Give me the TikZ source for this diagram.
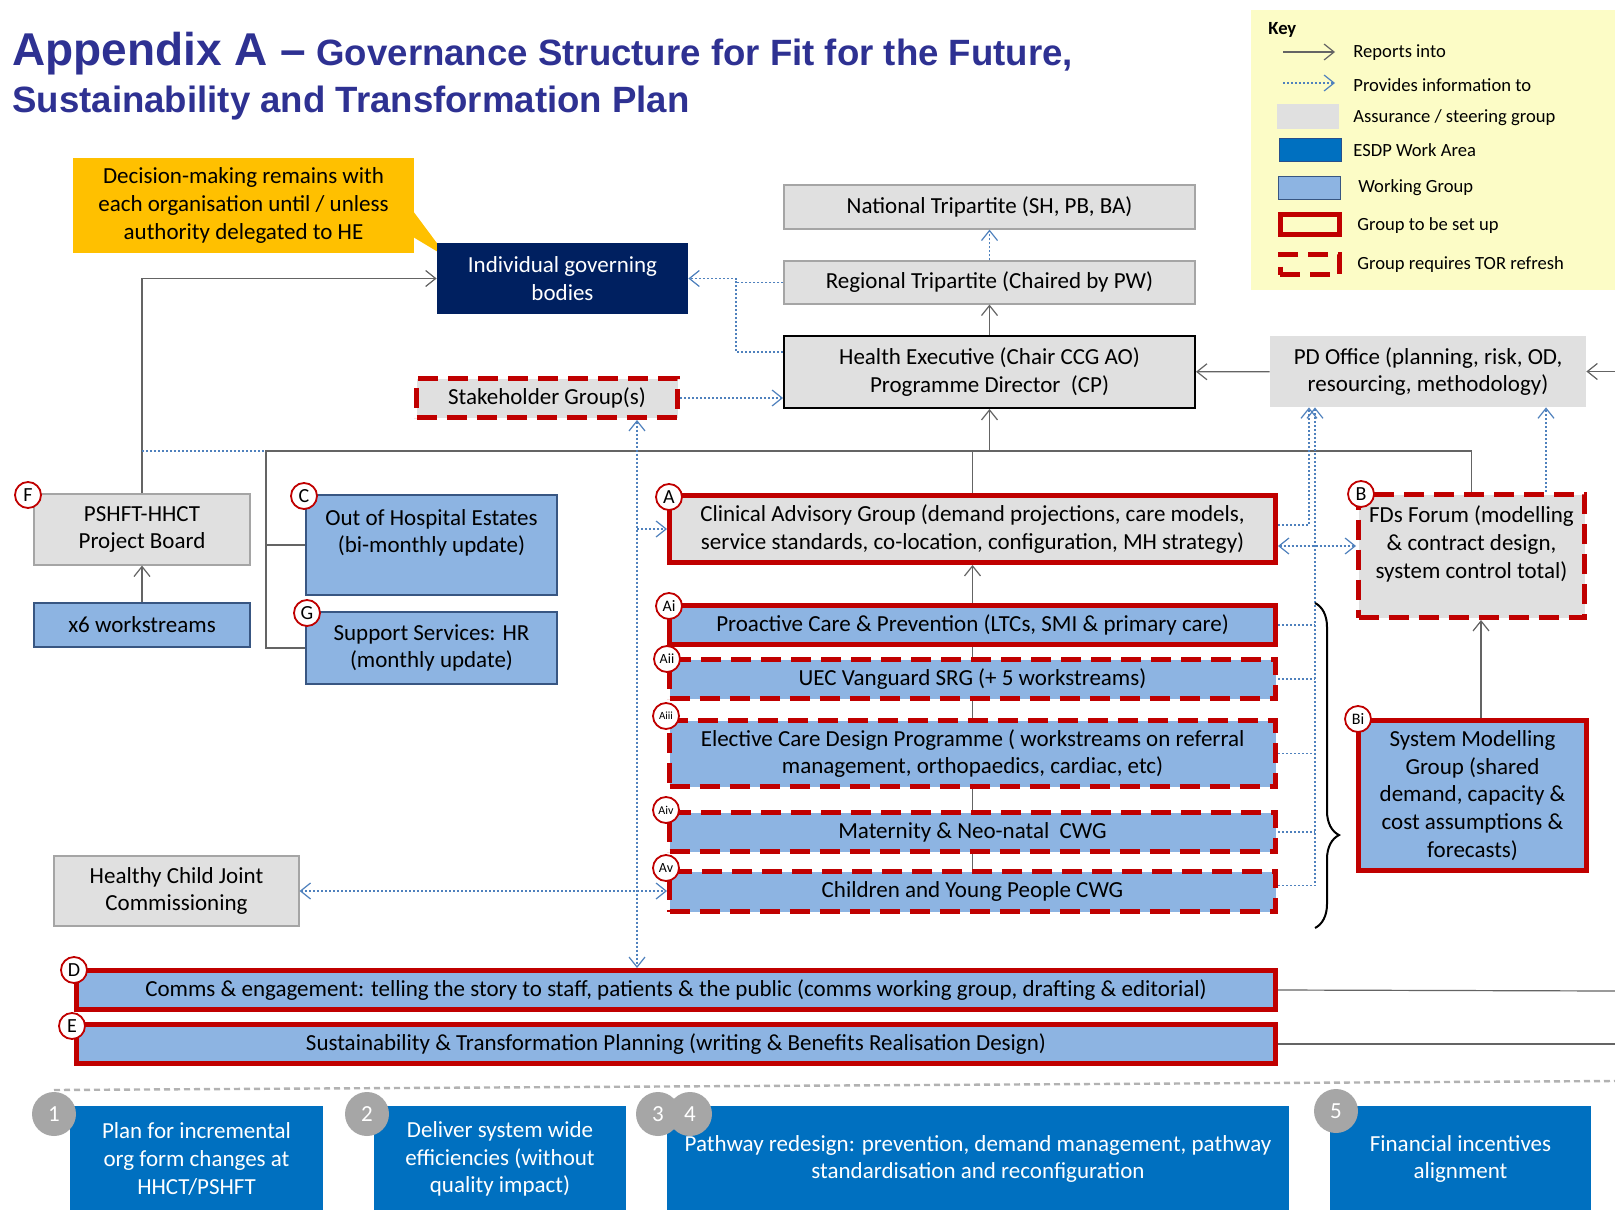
\documentclass[tikz,border=0pt]{standalone}
\usepackage{fontspec}
\setmainfont{Carlito}
\newfontfamily\headfont{Liberation Sans}
\usetikzlibrary{arrows.meta, positioning, decorations.pathreplacing}

\definecolor{steer}{RGB}{224,224,224}
\definecolor{steerline}{RGB}{165,165,165}
\definecolor{wgblue}{RGB}{141,180,226}
\definecolor{wgline}{RGB}{56,86,130}
\definecolor{esdp}{RGB}{0,112,192}
\definecolor{esdpline}{RGB}{40,80,140}
\definecolor{navy}{RGB}{0,32,96}
\definecolor{redline}{RGB}{192,0,0}
\definecolor{infoblue}{RGB}{79,129,189}
\definecolor{linegrey}{RGB}{100,100,100}
\definecolor{keyyellow}{RGB}{252,252,198}
\definecolor{calloutfill}{RGB}{255,192,0}
\definecolor{titleblue}{RGB}{46,49,146}
\definecolor{numgrey}{RGB}{166,166,166}

\newcommand{\bodysize}{\fontsize{11.5pt}{13.9pt}\selectfont}
\newcommand{\keysize}{\fontsize{9.3pt}{11pt}\selectfont}

\begin{document}
\begin{tikzpicture}[x=0.5pt, y=-0.5pt, font=\bodysize,
  box/.style={rectangle, align=center, inner sep=2pt},
  steerbox/.style={box, fill=steer, draw=steerline, line width=0.6pt},
  wgbox/.style={box, fill=wgblue, draw=wgline, line width=0.7pt},
  esdpbox/.style={box, fill=esdp, text=white, minimum height=53pt},
  setup/.style={draw=redline, line width=2.5pt},
  torbox/.style={draw=redline, line width=2.5pt, dash pattern=on 10pt off 5pt},
  badge/.style={circle, draw=redline, line width=0.9pt, fill=white, inner sep=0pt,
    minimum size=13pt, font=\fontsize{10pt}{10pt}\selectfont},
  numbadge/.style={circle, fill=numgrey, text=white, inner sep=0pt, minimum size=22pt},
  keysw/.style={rectangle, inner sep=0pt, minimum width=29.5pt, minimum height=10pt},
  keytext/.style={anchor=west, inner sep=0pt, font=\keysize},
  rep/.style={draw=linegrey, line width=0.6pt, -{Straight Barb[length=5pt,width=8pt]}},
  info/.style={draw=infoblue, line width=0.6pt, dash pattern=on 1pt off 1pt,
    -{Straight Barb[length=5pt,width=8pt]}},
  infoline/.style={draw=infoblue, line width=0.6pt, dash pattern=on 1pt off 1pt},
  plain/.style={draw=linegrey, line width=0.6pt},
]
  \useasboundingbox (0,0) rectangle (1615,1209);
  \fill[white] (0,0) rectangle (1615,1209);

  % Title
  \node[anchor=base west, inner sep=0pt, text=titleblue,
    font=\headfont\bfseries\fontsize{18.3pt}{22pt}\selectfont] (title) at (12,66)
    {{\fontsize{23pt}{26pt}\selectfont Appendix A –} Governance Structure for Fit for the Future,};
  \node[anchor=base west, inner sep=0pt, text=titleblue,
    font=\headfont\bfseries\fontsize{18.3pt}{22pt}\selectfont] (subtitle) at (12,113)
    {Sustainability and Transformation Plan};

  % Key
  \node[fill=keyyellow, minimum width=182pt, minimum height=140pt] (key) at (1433,150) {};
  \node[keytext, font=\keysize\bfseries] (keyt) at (1268,30) {Key};
  \coordinate (k1a) at (1283,52); \coordinate (k1b) at (1335,52);
  \coordinate (k2a) at (1283,83); \coordinate (k2b) at (1335,83);
  \draw[rep] (k1a) -- (k1b);
  \draw[info] (k2a) -- (k2b);
  \node[keysw, fill=steer, minimum height=12.5pt, minimum width=31pt] (ksteer) at (1308,116.5) {};
  \node[keysw, fill=esdp, draw=esdpline, minimum height=11.5pt, minimum width=31pt] (kesdp) at (1310,150) {};
  \node[keysw, fill=wgblue, draw=wgline, minimum height=11.5pt, minimum width=31pt] (kwg) at (1309.5,187.5) {};
  \node[keysw, setup] (kset) at (1309.5,224.5) {};
  \node[keysw, torbox] (ktor) at (1309.5,264.5) {};
  \node[keytext] at (1353,53) {Reports into};
  \node[keytext] at (1353,85) {Provides information to};
  \node[keytext] at (1353,118) {Assurance / steering group};
  \node[keytext] at (1353,150) {ESDP Work Area};
  \node[keytext] at (1358,188) {Working Group};
  \node[keytext] at (1357,226) {Group to be set up};
  \node[keytext] at (1357,265) {Group requires TOR refresh};

  %Define nodes
  \node[box, fill=calloutfill, minimum width=170.5pt, minimum height=47.5pt] (note) at (243.5,205.5)
    {Decision-making remains with\\each organisation until / unless\\authority delegated to HE};
  \fill[calloutfill] (413,211) -- (448,258) -- (413,237) -- cycle;
  \node[box, fill=navy, text=white, minimum width=125.5pt, minimum height=35.5pt] (igb) at (562.5,278.5)
    {Individual governing\\bodies};
  \node[steerbox, minimum width=205.5pt, minimum height=22pt] (nat) at (989.5,207) {National Tripartite (SH, PB, BA)};
  \node[steerbox, minimum width=205.5pt, minimum height=21.5pt] (reg) at (989.5,282.5) {Regional Tripartite (Chaired by PW)};
  \node[steerbox, draw=black, line width=1pt, minimum width=205.5pt, minimum height=36pt] (he) at (989.5,372)
    {Health Executive (Chair CCG AO)\\Programme Director~ (CP)};
  \node[box, fill=steer, minimum width=158pt, minimum height=35.5pt] (pdo) at (1428,371.5)
    {PD Office (planning, risk, OD,\\resourcing, methodology)};
  \node[box, fill=steer, torbox, minimum width=130.5pt, minimum height=19.5pt] (stake) at (547,398) {Stakeholder Group(s)};

  \node[steerbox, minimum width=108pt, minimum height=35.5pt] (pshft) at (142,529.5) {PSHFT-HHCT\\Project Board};
  \node[wgbox, minimum width=108pt, minimum height=22pt] (ws) at (142,625) {x6 workstreams};
  \node[wgbox, minimum width=125.5pt, minimum height=50pt] (estates) at (431.5,545)
    {Out of Hospital Estates\\(bi-monthly update)\\\mbox{}};
  \node[wgbox, minimum width=125.5pt, minimum height=36pt] (support) at (431.5,648)
    {Support Services: HR\\(monthly update)};
  \node[steerbox, minimum width=122.5pt, minimum height=35pt] (child) at (176.5,891)
    {Healthy Child Joint\\Commissioning};

  \node[box, fill=steer, setup, minimum width=303pt, minimum height=33.5pt] (cag) at (972.5,529)
    {Clinical Advisory Group (demand projections, care models,\\service standards, co-location, configuration, MH strategy)};
  \node[box, fill=wgblue, setup, minimum width=303pt, minimum height=19.5pt] (ai) at (972.5,625)
    {Proactive Care \& Prevention (LTCs, SMI \& primary care)};
  \node[box, fill=wgblue, torbox, minimum width=303pt, minimum height=19.5pt] (aii) at (972.5,679)
    {UEC Vanguard SRG (+ 5 workstreams)};
  \node[box, fill=wgblue, torbox, minimum width=303pt, minimum height=33pt] (aiii) at (972.5,753.5)
    {Elective Care Design Programme ( workstreams on referral\\management, orthopaedics, cardiac, etc)};
  \node[box, fill=wgblue, torbox, minimum width=303pt, minimum height=19.5pt] (aiv) at (972.5,832)
    {Maternity \& Neo-natal~ CWG};
  \node[box, fill=wgblue, torbox, minimum width=303pt, minimum height=20pt] (av) at (972.5,891.5)
    {Children and Young People CWG};

  \node[box, fill=steer, torbox, minimum width=113pt, minimum height=61.5pt] (fds) at (1471.5,556)
    {FDs Forum (modelling\\\& contract design,\\system control total)\\\mbox{}};
  \node[box, fill=wgblue, setup, minimum width=114pt, minimum height=75pt] (sysmod) at (1472.5,795.5)
    {System Modelling\\Group (shared\\demand, capacity \&\\cost assumptions \&\\forecasts)};

  \node[box, fill=wgblue, setup, minimum width=599.5pt, minimum height=19.5pt] (comms) at (676,990)
    {Comms \& engagement: telling the story to staff, patients \& the public (comms working group, drafting \& editorial)};
  \node[box, fill=wgblue, setup, minimum width=599.5pt, minimum height=19.5pt] (stp) at (676,1044)
    {Sustainability \& Transformation Planning (writing \& Benefits Realisation Design)};

  % ESDP work areas
  \coordinate (sepa) at (54,1090); \coordinate (sepb) at (1615,1081);
  \draw[gray!60, line width=1.2pt, dash pattern=on 3pt off 2pt] (sepa) -- (sepb);
  \node[esdpbox, minimum width=126.5pt] (wa1) at (196.5,1159) {Plan for incremental\\org form changes at\\HHCT/PSHFT};
  \node[esdpbox, minimum width=126pt] (wa2) at (500,1159) {Deliver system wide\\efficiencies (without\\quality impact)};
  \node[esdpbox, minimum width=311pt] (wa34) at (978,1159) {Pathway redesign: prevention, demand management, pathway\\standardisation and reconfiguration};
  \node[esdpbox, minimum width=130.5pt] (wa5) at (1460.5,1159) {Financial incentives\\alignment};
  \node[numbadge] (n1) at (54,1114) {1};
  \node[numbadge] (n2) at (367,1114) {2};
  \node[numbadge] (n3) at (658,1114) {3};
  \node[numbadge] (n4) at (690,1114) {4};
  \node[numbadge] (n5) at (1336,1111) {5};

  % Connect the nodes
  \coordinate (bus) at (989.5,451);
  \coordinate (cgx) at (266,451);
  \coordinate (infox) at (637,0);
  \coordinate (igbx) at (736,0);
  \coordinate (pdx1) at (1309,0);
  \coordinate (pdx2) at (1315,0);
  \coordinate (fdx) at (1546,0);
  \coordinate (smx) at (1481,0);
  \coordinate (pdin) at (1615,371.5);
  \coordinate (dout) at (1615,991);
  \coordinate (eout) at (1615,1044);

  \draw[rep] (he) -- (reg);
  \draw[info] (reg) -- (nat);
  \draw[info] ([yshift=10pt]he.west) -| (igb.east -| igbx) -- (igb.east);
  \draw[infoline] (reg.west) -- (reg.west -| igbx);
  \draw[info] (stake.east) -- (stake.east -| he.west);
  \draw[rep] (pdo) -- (he);
  \draw[rep] (pdin) -- (pdo);
  \draw[rep] (pshft.north) |- (igb.west);
  \draw[rep] (ws) -- (pshft);
  \draw[infoline] (pshft.north |- bus) -- (bus -| infox);
  \draw[rep] (support.west) -| (cgx) -- (bus) -- (he.south);
  \draw[plain] (estates.west) -- (estates.west -| cgx);
  \draw[plain] (cag.north) |- (bus);
  \draw[plain] (fds.north) |- (bus);
  \draw[info, {Straight Barb[length=5pt,width=8pt]}-{Straight Barb[length=5pt,width=8pt]}]
    (stake.south -| infox) -- (comms.north -| infox);
  \draw[info] (cag.west -| infox) -- (cag.west);
  \draw[info, {Straight Barb[length=5pt,width=8pt]}-{Straight Barb[length=5pt,width=8pt]}]
    (child.east) -- (child.east -| av.west);
  \draw[rep] (ai) -- (cag);
  \draw[plain] (aii) -- (ai);
  \draw[plain] (aiii) -- (aii);
  \draw[plain] (aiv) -- (aiii);
  \draw[plain] (av) -- (aiv);
  \draw[info] ([yshift=2pt]cag.east) -| (pdo.south -| pdx1);
  \draw[info] ([yshift=3pt]av.east) -| (pdo.south -| pdx2);
  \draw[infoline] (ai.east) -- (ai.east -| pdx2);
  \draw[infoline] (aii.east) -- (aii.east -| pdx2);
  \draw[infoline] (aiii.east) -- (aiii.east -| pdx2);
  \draw[infoline] (aiv.east) -- (aiv.east -| pdx2);
  \draw[info, {Straight Barb[length=5pt,width=8pt]}-{Straight Barb[length=5pt,width=8pt]}]
    ([yshift=-8.5pt]cag.east) -- ([yshift=-8.5pt]cag.east -| fds.west);
  \draw[info] (fds.north -| fdx) -- (pdo.south -| fdx);
  \draw[rep] (sysmod.north -| smx) -- (fds.south -| smx);
  \draw[plain] (comms.east) -- (dout);
  \draw[plain] (stp.east) -- (eout);
  \draw[black, line width=1pt, decorate, decoration={brace, amplitude=12pt, aspect=0.714}]
    (ai.north east -| pdx2) coordinate (bra) -- (1315,928) coordinate (brb);

  % Labels
  \node[badge] (bf) at (28,495) {F};
  \node[badge] (bc) at (304,496) {C};
  \node[badge] (bg) at (307,613) {G};
  \node[badge] (ba) at (669,497) {A};
  \node[badge] (bb) at (1361,494) {B};
  \node[badge, font=\fontsize{8pt}{8pt}\selectfont] (bai) at (669,606) {Ai};
  \node[badge, font=\fontsize{7pt}{7pt}\selectfont] (baii) at (667,659) {Aii};
  \node[badge, font=\fontsize{5.5pt}{6pt}\selectfont] (baiii) at (666,716) {Aiii};
  \node[badge, font=\fontsize{6pt}{6pt}\selectfont] (baiv) at (666,810) {Aiv};
  \node[badge, font=\fontsize{7pt}{7pt}\selectfont] (bav) at (666,868) {Av};
  \node[badge, font=\fontsize{8pt}{8pt}\selectfont] (bbi) at (1358,719) {Bi};
  \node[badge] (bd) at (74,970) {D};
  \node[badge] (be) at (72,1026) {E};
\end{tikzpicture}
\end{document}
